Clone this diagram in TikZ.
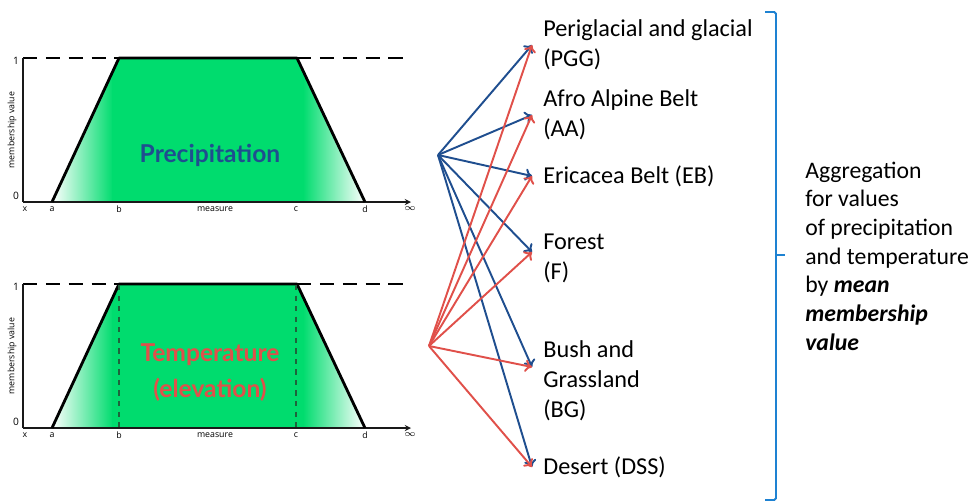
\documentclass[tikz,border=0pt]{standalone}
\usepackage{fontspec}
\usetikzlibrary{arrows.meta}
\setmainfont{Carlito}
\newfontfamily\axisfont{Open Sans}
\newfontfamily\titlefont{Lato}
\definecolor{memgreen}{RGB}{0,220,110}
\definecolor{darkgreen}{RGB}{30,100,60}
\definecolor{precblue}{RGB}{31,78,143}
\definecolor{tempred}{RGB}{224,80,74}
\definecolor{bracketblue}{RGB}{30,130,210}
\tikzset{
	tick/.style={font=\axisfont\fontsize{5}{6}\selectfont, inner sep=0pt},
	zone/.style={anchor=west, align=left, inner xsep=0.22cm, inner ysep=0pt,
		font=\fontsize{13.8}{17}\selectfont},
	precarrow/.style={-{To[length=4pt,width=7pt]}, draw=precblue, line width=1.1pt},
	temparrow/.style={-{To[length=4pt,width=7pt]}, draw=tempred, line width=1.1pt}
}
\begin{document}
\begin{tikzpicture}[x=0.02cm, y=-0.02cm]

		\useasboundingbox (0,0) rectangle (971,504);

		% the two membership functions
		\foreach \oy in {0,226} {
			\begin{scope}[shift={(0,\oy)}]
				\begin{scope}
					\clip (52,202) -- (119,58) -- (297,58) -- (365,202) -- cycle;
					\shade [left color=white, right color=memgreen] (52,58) rectangle (113,202);
					\fill [memgreen] (112,58) rectangle (304,202);
					\shade [left color=memgreen, right color=white] (303,58) rectangle (365,202);
				\end{scope}
				\draw [dashed, dash pattern=on 8pt off 5pt, line width=0.7pt] (23,58) -- (410,58);
				\draw [line width=0.6pt, gray!20!black] (23,58) -- (23,202);
				\draw [line width=0.6pt, gray!20!black, -stealth] (23,202) -- (411,202);
				\draw [line width=1.6pt, line join=round] (52,202) -- (119,58) -- (297,58) -- (365,202);
				\node [tick, font=\axisfont\fontsize{5.8}{6}\selectfont] (one) at (16,61) {1};
				\node [tick, font=\axisfont\fontsize{5.8}{6}\selectfont] (zero) at (16,196) {0};
				\node [tick, rotate=90] (mv) at (12,130) {membership value};
				\node [tick] (lx) at (25,209) {x};
				\node [tick] (la) at (52,209) {a};
				\node [tick] (lb) at (119,209) {b};
				\node [tick] (lm) at (215,209) {measure};
				\node [tick] (lc) at (296,209) {c};
				\node [tick] (ld) at (365,209) {d};
				\node [tick] (linf) at (410,209) {$\infty$};
			\end{scope}
		}
		\draw [dashed, darkgreen, line width=0.7pt] (119,285) -- (119,427);
		\draw [dashed, darkgreen, line width=0.7pt] (296,285) -- (296,427);

		\node [precblue, font=\titlefont\bfseries\fontsize{14}{16}\selectfont] (prec) at (210,155) {Precipitation};
		\node [tempred, align=center, font=\titlefont\bfseries\fontsize{14}{20.5}\selectfont] (temp) at (210,373) {Temperature\\(elevation)};

		% vegetation zones
		\coordinate (precsrc) at (438,155);
		\coordinate (tempsrc) at (429,346);
		\node [zone] (pgg) at (532,45) {Periglacial and glacial\\(PGG)};
		\node [zone] (aa) at (532,115) {Afro Alpine Belt\\(AA)};
		\node [zone] (eb) at (532,176) {Ericacea Belt (EB)};
		\node [zone] (fo) at (532,258) {Forest\\(F)};
		\node [zone] (bg) at (532,381) {Bush and\\Grassland\\(BG)};
		\node [zone] (dss) at (532,467) {Desert (DSS)};

		\foreach \t/\s in {pgg/0,aa/0,eb/0,fo/0.12,bg/0.28,dss/0}
			\draw [precarrow] (precsrc) -- ([yshift=\s cm]\t.west);
		\foreach \t/\s in {pgg/0,aa/0,eb/0,fo/0.12,bg/0.28,dss/0}
			\draw [temparrow] (tempsrc) -- ([yshift=\s cm]\t.west);

		% aggregation
		\draw [bracketblue, line width=1.1pt, rounded corners=1pt] (765,12) -- (776,12) -- (776,500) -- (765,500);
		\draw [bracketblue, line width=1.1pt] (776,255) -- (785,255);
		\node [anchor=west, align=left, inner sep=0pt, font=\fontsize{13.5}{16.3}\selectfont] (agg) at (805,256)
			{Aggregation\\for values\\of precipitation\\and temperature\\by \textbf{\textit{mean}}\\\textbf{\textit{membership}}\\\textbf{\textit{value}}};
\end{tikzpicture}
\end{document}
